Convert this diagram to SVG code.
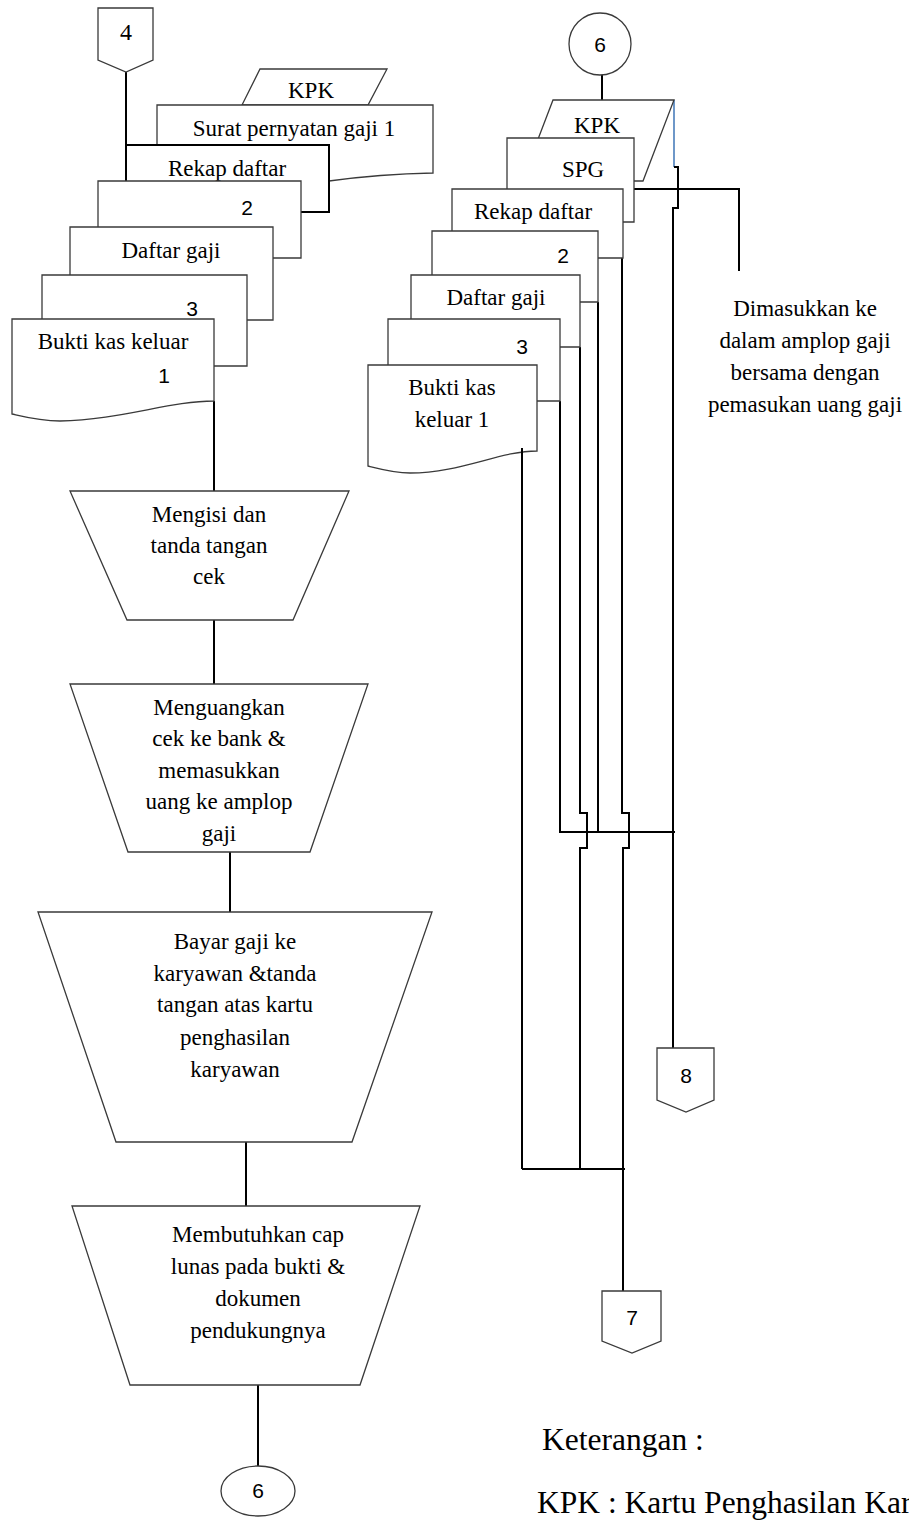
<svg xmlns="http://www.w3.org/2000/svg" width="909" height="1521" viewBox="0 0 909 1521">
<style>
.s{fill:#fff;stroke:#3a3a3a;stroke-width:1.3}
.sb{fill:#fff;stroke:#000;stroke-width:2}
.c{fill:none;stroke:#000;stroke-width:2}
.t{font-family:"Liberation Serif","Times New Roman",serif;font-size:23px;fill:#000;text-anchor:middle}
.n{font-family:"Liberation Sans",Arial,sans-serif;font-size:21px;fill:#000;text-anchor:middle}
.k{font-family:"Liberation Serif","Times New Roman",serif;font-size:31.5px;fill:#000}
</style>
<rect width="909" height="1521" fill="#fff"/>

<g id="connectors">
<path class="c" d="M126,72V181"/>
<path class="c" d="M214,401V491"/>
<path class="c" d="M214,620V684"/>
<path class="c" d="M230,852V912"/>
<path class="c" d="M246,1142V1206"/>
<path class="c" d="M258,1385V1466"/>
<path class="c" d="M602,75V100"/>
<path d="M674,100V167" fill="none" stroke="#4a7ebb" stroke-width="1.6"/>
<path class="c" d="M674,167H678V208H673V1048"/>
<path class="c" d="M634,189H739V271"/>
<path class="c" d="M522,448V1169"/>
<path class="c" d="M560,401V832"/>
<path class="c" d="M580,347V813H587V848H580V1169"/>
<path class="c" d="M598,302V832"/>
<path class="c" d="M622,243V813H629V848H623V1291"/>
<path class="c" d="M559,832H675"/>
<path class="c" d="M522,1169H625"/>
</g>

<g id="off4"><path class="s" d="M98,8H153V60L126,72L98,60Z"/><text class="t" x="126" y="40" style="font-size:24px">4</text></g>

<g id="kpk-left"><path class="s" d="M260,69H387L368,105H242Z"/><text class="t" x="311" y="98">KPK</text></g>
<g id="spg-left"><path class="s" d="M157,181V105H433V173Q380,174 329,181Z"/><text class="t" x="294" y="136">Surat pernyatan gaji 1</text></g>
<g id="rekap-left"><path class="sb" d="M126,212V145H329V212Z"/><text class="t" x="227" y="176">Rekap daftar</text></g>
<g id="doc2-left"><path class="s" d="M98,258V181H301V258Z"/><text class="n" x="247" y="215">2</text></g>
<g id="daftar-left"><path class="s" d="M70,320V227H273V320Z"/><text class="t" x="171" y="258">Daftar gaji</text></g>
<g id="doc3-left"><path class="s" d="M42,366V275H247V366Z"/><text class="n" x="192" y="316">3</text></g>
<g id="bkk-left"><path class="s" d="M12,414V319H214V401C170,401 120,420 60,421C40,421 25,417 12,414Z"/><text class="t" x="113" y="349">Bukti kas keluar</text><text class="n" x="164" y="383">1</text></g>

<g id="p1"><path class="s" d="M70,491H349L293,620H127Z"/><text class="t" x="209" y="522">Mengisi dan</text><text class="t" x="209" y="553">tanda tangan</text><text class="t" x="209" y="584">cek</text></g>
<g id="p2"><path class="s" d="M70,684H368L310,852H128Z"/><text class="t" x="219" y="715">Menguangkan</text><text class="t" x="219" y="746">cek ke bank &amp;</text><text class="t" x="219" y="778">memasukkan</text><text class="t" x="219" y="809">uang ke amplop</text><text class="t" x="219" y="841">gaji</text></g>
<g id="p3"><path class="s" d="M38,912H432L352,1142H116Z"/><text class="t" x="235" y="949">Bayar gaji ke</text><text class="t" x="235" y="981">karyawan &amp;tanda</text><text class="t" x="235" y="1012">tangan atas kartu</text><text class="t" x="235" y="1045">penghasilan</text><text class="t" x="235" y="1077">karyawan</text></g>
<g id="p4"><path class="s" d="M72,1206H420L360,1385H130Z"/><text class="t" x="258" y="1242">Membutuhkan cap</text><text class="t" x="258" y="1274">lunas pada bukti &amp;</text><text class="t" x="258" y="1306">dokumen</text><text class="t" x="258" y="1338">pendukungnya</text></g>
<g id="c6-bottom"><ellipse class="s" cx="258" cy="1491" rx="37" ry="25"/><text class="n" x="258" y="1498">6</text></g>

<g id="c6-top"><circle class="s" cx="600" cy="44" r="31"/><text class="n" x="600" y="52">6</text></g>
<g id="kpk-right"><path class="s" d="M553,100H674L643,181H522Z"/><text class="t" x="597" y="133">KPK</text></g>
<g id="spg-right"><path class="s" d="M507,222V138H634V222Z"/><text class="t" x="583" y="177">SPG</text></g>
<g id="rekap-right"><path class="s" d="M452,258V189H623V258Z"/><text class="t" x="533" y="219">Rekap daftar</text></g>
<g id="doc2-right"><path class="s" d="M432,302V231H598V302Z"/><text class="n" x="563" y="263">2</text></g>
<g id="daftar-right"><path class="s" d="M411,347V275H580V347Z"/><text class="t" x="496" y="305">Daftar gaji</text></g>
<g id="doc3-right"><path class="s" d="M388,401V319H560V401Z"/><text class="n" x="522" y="354">3</text></g>
<g id="bkk-right"><path class="s" d="M368,466V365H537V451C500,451 460,473 410,473C395,473 380,469 368,466Z"/><text class="t" x="452" y="395">Bukti kas</text><text class="t" x="452" y="427">keluar 1</text></g>
<path class="c" d="M522,448V470"/>

<g id="note"><text class="t" x="805" y="316">Dimasukkan ke</text><text class="t" x="805" y="348">dalam amplop gaji</text><text class="t" x="805" y="380">bersama dengan</text><text class="t" x="805" y="412">pemasukan uang gaji</text></g>

<g id="off8"><path class="s" d="M657,1048H714V1100L686,1112L657,1100Z"/><text class="n" x="686" y="1083">8</text></g>
<g id="off7"><path class="s" d="M602,1291H661V1341L632,1353L602,1341Z"/><text class="n" x="632" y="1325">7</text></g>

<g id="legend"><text class="k" x="542" y="1450">Keterangan :</text><text class="k" x="537" y="1513">KPK : Kartu Penghasilan Karyawan</text></g>
</svg>
